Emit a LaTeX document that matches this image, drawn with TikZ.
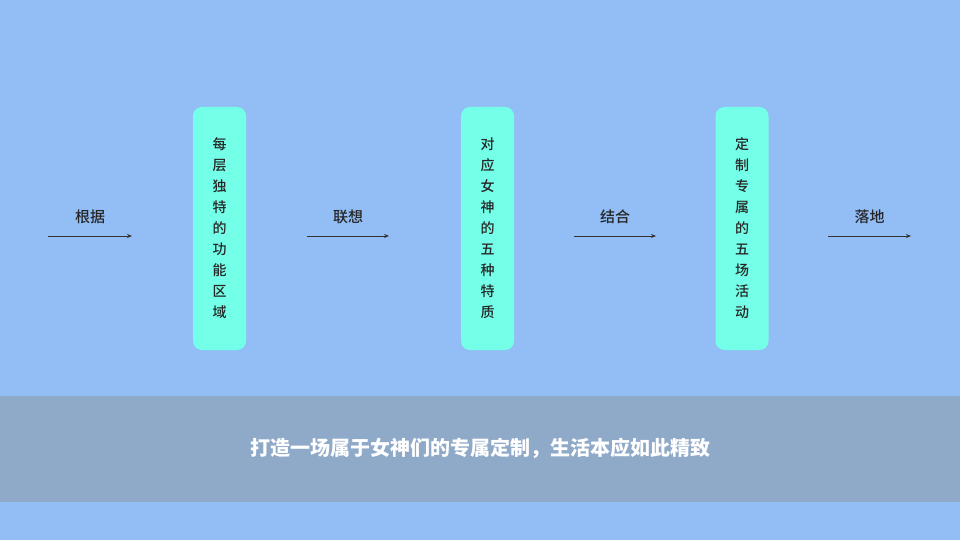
\documentclass[tikz,border=0pt]{standalone}
\usepackage{fontspec}
\newfontfamily\cjk{Noto Sans CJK SC}
\newfontfamily\cjkm{Noto Sans CJK SC Medium}
\usetikzlibrary{arrows.meta}
\definecolor{bg}{HTML}{92BEF5}
\definecolor{band}{HTML}{8FA9C8}
\definecolor{boxc}{HTML}{74FFE8}
\tikzset{
 pill/.style={fill=boxc,rounded corners=9pt,minimum width=53pt,minimum height=243pt,inner sep=0pt,align=center,font=\cjkm\fontsize{14}{21}\selectfont,text=black!85},
 flow/.style={-{Stealth[length=5pt,width=4pt]},line width=0.8pt,draw=black!80},
 lab/.style={font=\cjkm\fontsize{15}{16}\selectfont,text=black!85}
}
\begin{document}
\begin{tikzpicture}[x=1pt,y=-1pt]
\fill[bg] (0,0) rectangle (960,540);
\useasboundingbox (0,0) rectangle (960,540);
\fill[band] (0,396) rectangle (960,502);
\node[pill] (b1) at (219.5,228.5) {每\\层\\独\\特\\的\\功\\能\\区\\域};
\node[pill] (b2) at (487.5,228.5) {对\\应\\女\\神\\的\\五\\种\\特\\质};
\node[pill] (b3) at (742,228.5) {定\\制\\专\\属\\的\\五\\场\\活\\动};
\foreach \i/\a/\b/\t in {1/48/132/根据,2/307/389/联想,3/574/656/结合,4/828/911/落地}{
 \coordinate (s\i) at (\a,236);
 \coordinate (e\i) at (\b,236);
 \draw[flow] (s\i) -- (e\i);
 \node[lab] (l\i) at ({(\a+\b)/2},217) {\t};
}
\node[font=\cjk\bfseries\fontsize{20}{22}\selectfont,text=white] (cap) at (480,448) {打造一场属于女神们的专属定制，生活本应如此精致};
\end{tikzpicture}
\end{document}
